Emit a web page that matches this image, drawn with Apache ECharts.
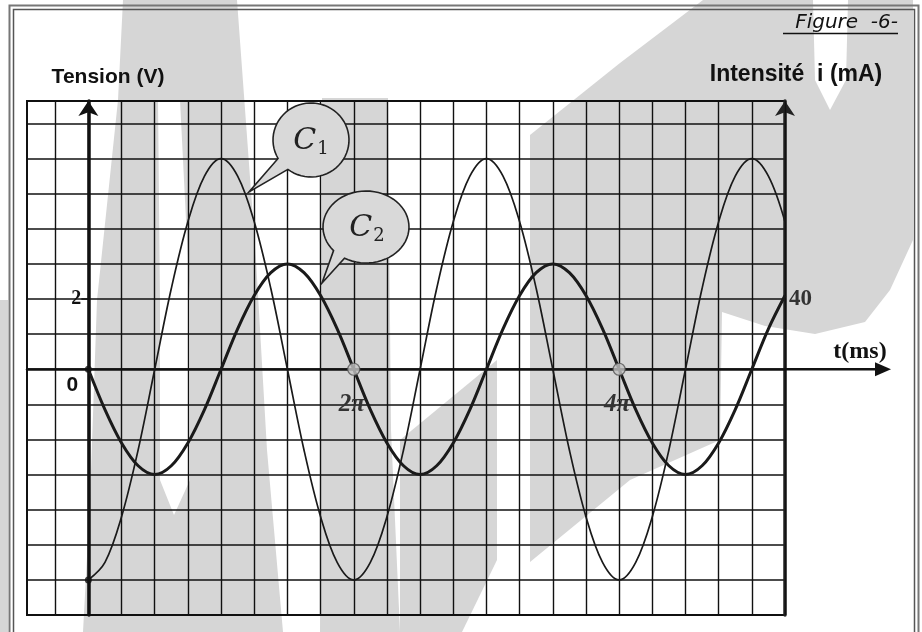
<!DOCTYPE html>
<html>
<head>
<meta charset="utf-8">
<script src="https://cdn.jsdelivr.net/npm/echarts@6/dist/echarts.min.js"></script>
<style>html,body{margin:0;padding:0;background:#fff}#c{width:922px;height:632px}</style>
</head>
<body>
<div id="c"></div>
<script>
// time samples (grid divisions)
const tValues = [0,0.5,1,1.5,2,2.5,3,3.5,4,4.5,5,5.5,6,6.5,7,7.5,8,8.5,9,9.5,10,10.5,11,11.5,12,12.5,13,13.5,14,14.5,15,15.5,16,16.5,17,17.5,18,18.5,19,19.5,20,20.5,21];
// C1 : tension (V)
const c1Volts = [-6.0,-5.5,-4.2,-2.3,0,2.3,4.2,5.5,6.0,5.5,4.2,2.3,0,-2.3,-4.2,-5.5,-6.0,-5.5,-4.2,-2.3,0,2.3,4.2,5.5,6.0,5.5,4.2,2.3,0,-2.3,-4.2,-5.5,-6.0,-5.5,-4.2,-2.3,0,2.3,4.2,5.5,6.0,5.5,4.2];
// C2 : intensité (mA)
const c2MilliAmps = [0,-23,-42,-55,-60,-55,-42,-23,0,23,42,55,60,55,42,23,0,-23,-42,-55,-60,-55,-42,-23,0,23,42,55,60,55,42,23,0,-23,-42,-55,-60,-55,-42,-23,0,23,42];
// vertical grid lines
const gridLinesX = [-1,0,1,2,3,4,5,6,7,8,9,10,11,12,13,14,15,16,17,18,19,20,21];
// tick labels
const xTickValues = [8,16];
const xTickLabels = ['2π','4π'];
const yLeftTickValues = [2];
const yLeftTickLabels = ['2'];
const yRightTickValues = [40];
const yRightTickLabels = ['40'];
// marked points
const markedPoints = [[8,0],[16,0]];
const dotPoints = [[0,0],[0,-6]];

const chart = echarts.init(document.getElementById('c'), null, {renderer:'canvas'});
const ink = '#111';
const option = {
  backgroundColor:'#fff',
  animation:false,
  grid:{left:27, top:101, width:758, height:514, outerBoundsMode:'none', containLabel:false,
    show:true, borderColor:ink, borderWidth:2, backgroundColor:'transparent'},
  xAxis:{
    type:'value', min:-1.85, max:21,
    splitLine:{show:false},
    axisLine:{show:true, onZero:true, lineStyle:{color:ink, width:2.5}},
    axisTick:{show:false},
    axisLabel:{show:false}
  },
  yAxis:[{
    type:'value', min:-7, max:7.64, interval:1,
    splitLine:{show:true, lineStyle:{color:ink, width:1.7}},
    axisLine:{show:true, onZero:true, symbol:['none','arrow'], symbolSize:[15,15], lineStyle:{color:ink, width:3.5}},
    axisTick:{show:false},
    axisLabel:{show:false}
  },{
    type:'value', min:-140, max:152.8, interval:20, position:'right',
    splitLine:{show:false},
    axisLine:{show:true, onZero:false, symbol:['none','arrow'], symbolSize:[15,15], lineStyle:{color:'#222', width:3.5}},
    axisTick:{show:false},
    axisLabel:{show:false}
  }],
  series:[
    {type:'line', name:'gridlines', data:[], silent:true,
      markLine:{silent:true, symbol:['none','none'], label:{show:false}, animation:false,
        lineStyle:{color:ink, width:1.4, type:'solid'},
        data:gridLinesX.map(function(v){return {xAxis:v};})}},
    {type:'line', name:'C1', yAxisIndex:0, smooth:0.35, showSymbol:false, z:5,
      data:tValues.map(function(t,i){return [t,c1Volts[i]];}),
      lineStyle:{color:'#1a1a1a', width:1.7}},
    {type:'line', name:'C2', yAxisIndex:1, smooth:0.35, showSymbol:false, z:6,
      data:tValues.map(function(t,i){return [t,c2MilliAmps[i]];}),
      lineStyle:{color:'#1a1a1a', width:3}},
    {type:'scatter', yAxisIndex:0, symbolSize:12, z:8, data:markedPoints,
      itemStyle:{color:'#c4c4c4', borderColor:'#555', borderWidth:1.2}},
    {type:'scatter', yAxisIndex:0, symbolSize:7, z:8, data:dotPoints,
      itemStyle:{color:'#111'}}
  ]
};
chart.setOption(option);

function px(x, y, yi){ return chart.convertToPixel({xAxisIndex:0, yAxisIndex:yi||0}, [x, y]); }
const o = px(0,0);
const r = px(21,0);
const y0 = o[1];

// speech bubble outline (decoration): ellipse arc + tail
function bubble(cx, cy, rx, ry, a1, a2, tip){
  const pts = [];
  const n = 60;
  for (let k=0;k<=n;k++){
    const a = (a1 + (a2 - a1)*k/n) * Math.PI/180;
    pts.push([cx + rx*Math.cos(a), cy + ry*Math.sin(a)]);
  }
  pts.push(tip);
  return pts;
}
const bubbleFill = '#d9d9d9', bubbleStroke = '#222';
const wm = '#d6d6d6';
const g = [
  // background watermark (halftone shapes, approximated)
  {type:'polygon', z:-10, silent:true, shape:{points:[[123,0],[237,0],[248,150],[256,260],[267,450],[283,632],[83,632],[90,500],[97,300],[118,100]]}, style:{fill:wm}},
  {type:'polygon', z:-9, silent:true, shape:{points:[[158,100],[180,100],[190,300],[190,480],[174,515],[160,480],[160,300]]}, style:{fill:'#fff'}},
  {type:'polygon', z:-10, silent:true, shape:{points:[[322,98],[388,98],[391,430],[400,632],[320,632]]}, style:{fill:wm}},
  {type:'polygon', z:-10, silent:true, shape:{points:[[497,360],[497,560],[462,632],[400,632],[400,440]]}, style:{fill:wm}},
  {type:'polygon', z:-10, silent:true, shape:{points:[[703,0],[913,0],[913,240],[890,290],[865,322],[815,334],[765,326],[722,312],[720,440],[630,480],[530,562],[530,135],[620,63]]}, style:{fill:wm}},
  {type:'polygon', z:-9, silent:true, shape:{points:[[813,0],[848,0],[846,80],[830,110],[815,80]]}, style:{fill:'#fff'}},
  {type:'rect', z:-10, silent:true, shape:{x:0, y:300, width:8, height:332}, style:{fill:wm}},
  // outer double frame
  {type:'rect', shape:{x:9.5, y:5.5, width:909, height:640}, style:{fill:null, stroke:'#777', lineWidth:2}, silent:true},
  {type:'rect', shape:{x:13.5, y:9.5, width:901, height:640}, style:{fill:null, stroke:'#555', lineWidth:1.5}, silent:true},
  // t axis extension
  {type:'line', shape:{x1:r[0], y1:y0, x2:880, y2:y0}, style:{stroke:ink, lineWidth:2.5}, z:10},
  {type:'polygon', shape:{points:[[891,y0],[875,y0-7],[875,y0+7]]}, style:{fill:ink}, z:10},
  {type:'text', x:860, y:y0-17, style:{text:'t(ms)', font:'bold 24px "Liberation Serif"', fill:ink, align:'center', verticalAlign:'middle'}, z:10},
  {type:'text', x:o[0]-16, y:y0+16, style:{text:'0', font:'bold 21px "Liberation Sans"', fill:ink, align:'center', verticalAlign:'middle'}, z:10},
  // axis titles
  {type:'text', x:108, y:77, style:{text:'Tension (V)', font:'bold 21px "Liberation Sans"', fill:ink, align:'center', verticalAlign:'middle'}, z:10},
  {type:'text', x:796, y:75, style:{text:'Intensité  i (mA)', font:'bold 23px "Liberation Sans"', fill:ink, align:'center', verticalAlign:'middle'}, z:10},
  // figure title
  {type:'text', x:898, y:23, style:{text:'Figure  -6-', font:'italic 20px "DejaVu Sans"', fill:ink, align:'right', verticalAlign:'middle'}, z:10},
  {type:'line', shape:{x1:783, y1:33.5, x2:898, y2:33.5}, style:{stroke:ink, lineWidth:1.4}, z:10},
  // bubble C1
  {type:'polygon', shape:{points:bubble(311,140,38,37,150,487.5,[249,192])}, style:{fill:bubbleFill, stroke:bubbleStroke, lineWidth:1.6}, z:20},
  {type:'text', x:311, y:141, style:{text:'{c|C}{s|1}', align:'center', verticalAlign:'middle', rich:{c:{font:'italic 30px "DejaVu Serif"', fill:'#222'}, s:{font:'18px "DejaVu Serif"', fill:'#222', padding:[16,0,0,1]}}}, z:21},
  // bubble C2
  {type:'polygon', shape:{points:bubble(366,227,43,36,139,480,[322,283])}, style:{fill:bubbleFill, stroke:bubbleStroke, lineWidth:1.6}, z:20},
  {type:'text', x:367, y:228, style:{text:'{c|C}{s|2}', align:'center', verticalAlign:'middle', rich:{c:{font:'italic 30px "DejaVu Serif"', fill:'#222'}, s:{font:'18px "DejaVu Serif"', fill:'#222', padding:[16,0,0,1]}}}, z:21}
];
// tick labels placed on the axes through the scales
xTickValues.forEach(function(v,i){
  const p = px(v,0);
  g.push({type:'text', x:p[0]-2, y:p[1]+35, style:{text:xTickLabels[i], font:'italic bold 25px "Liberation Serif"', fill:'#333', align:'center', verticalAlign:'middle'}, z:10});
});
yLeftTickValues.forEach(function(v,i){
  const p = px(0,v,0);
  g.push({type:'text', x:p[0]-7, y:p[1], style:{text:yLeftTickLabels[i], font:'bold 20px "Liberation Serif"', fill:ink, align:'right', verticalAlign:'middle'}, z:10});
  g.push({type:'line', shape:{x1:p[0]-7, y1:p[1], x2:p[0], y2:p[1]}, style:{stroke:ink, lineWidth:1.5}, z:10});
});
yRightTickValues.forEach(function(v,i){
  const p = px(21,v,1);
  g.push({type:'text', x:p[0]+4, y:p[1], style:{text:yRightTickLabels[i], font:'bold 23px "Liberation Serif"', fill:'#333', align:'left', verticalAlign:'middle'}, z:10});
});
chart.setOption({graphic:g});
</script>
</body>
</html>
